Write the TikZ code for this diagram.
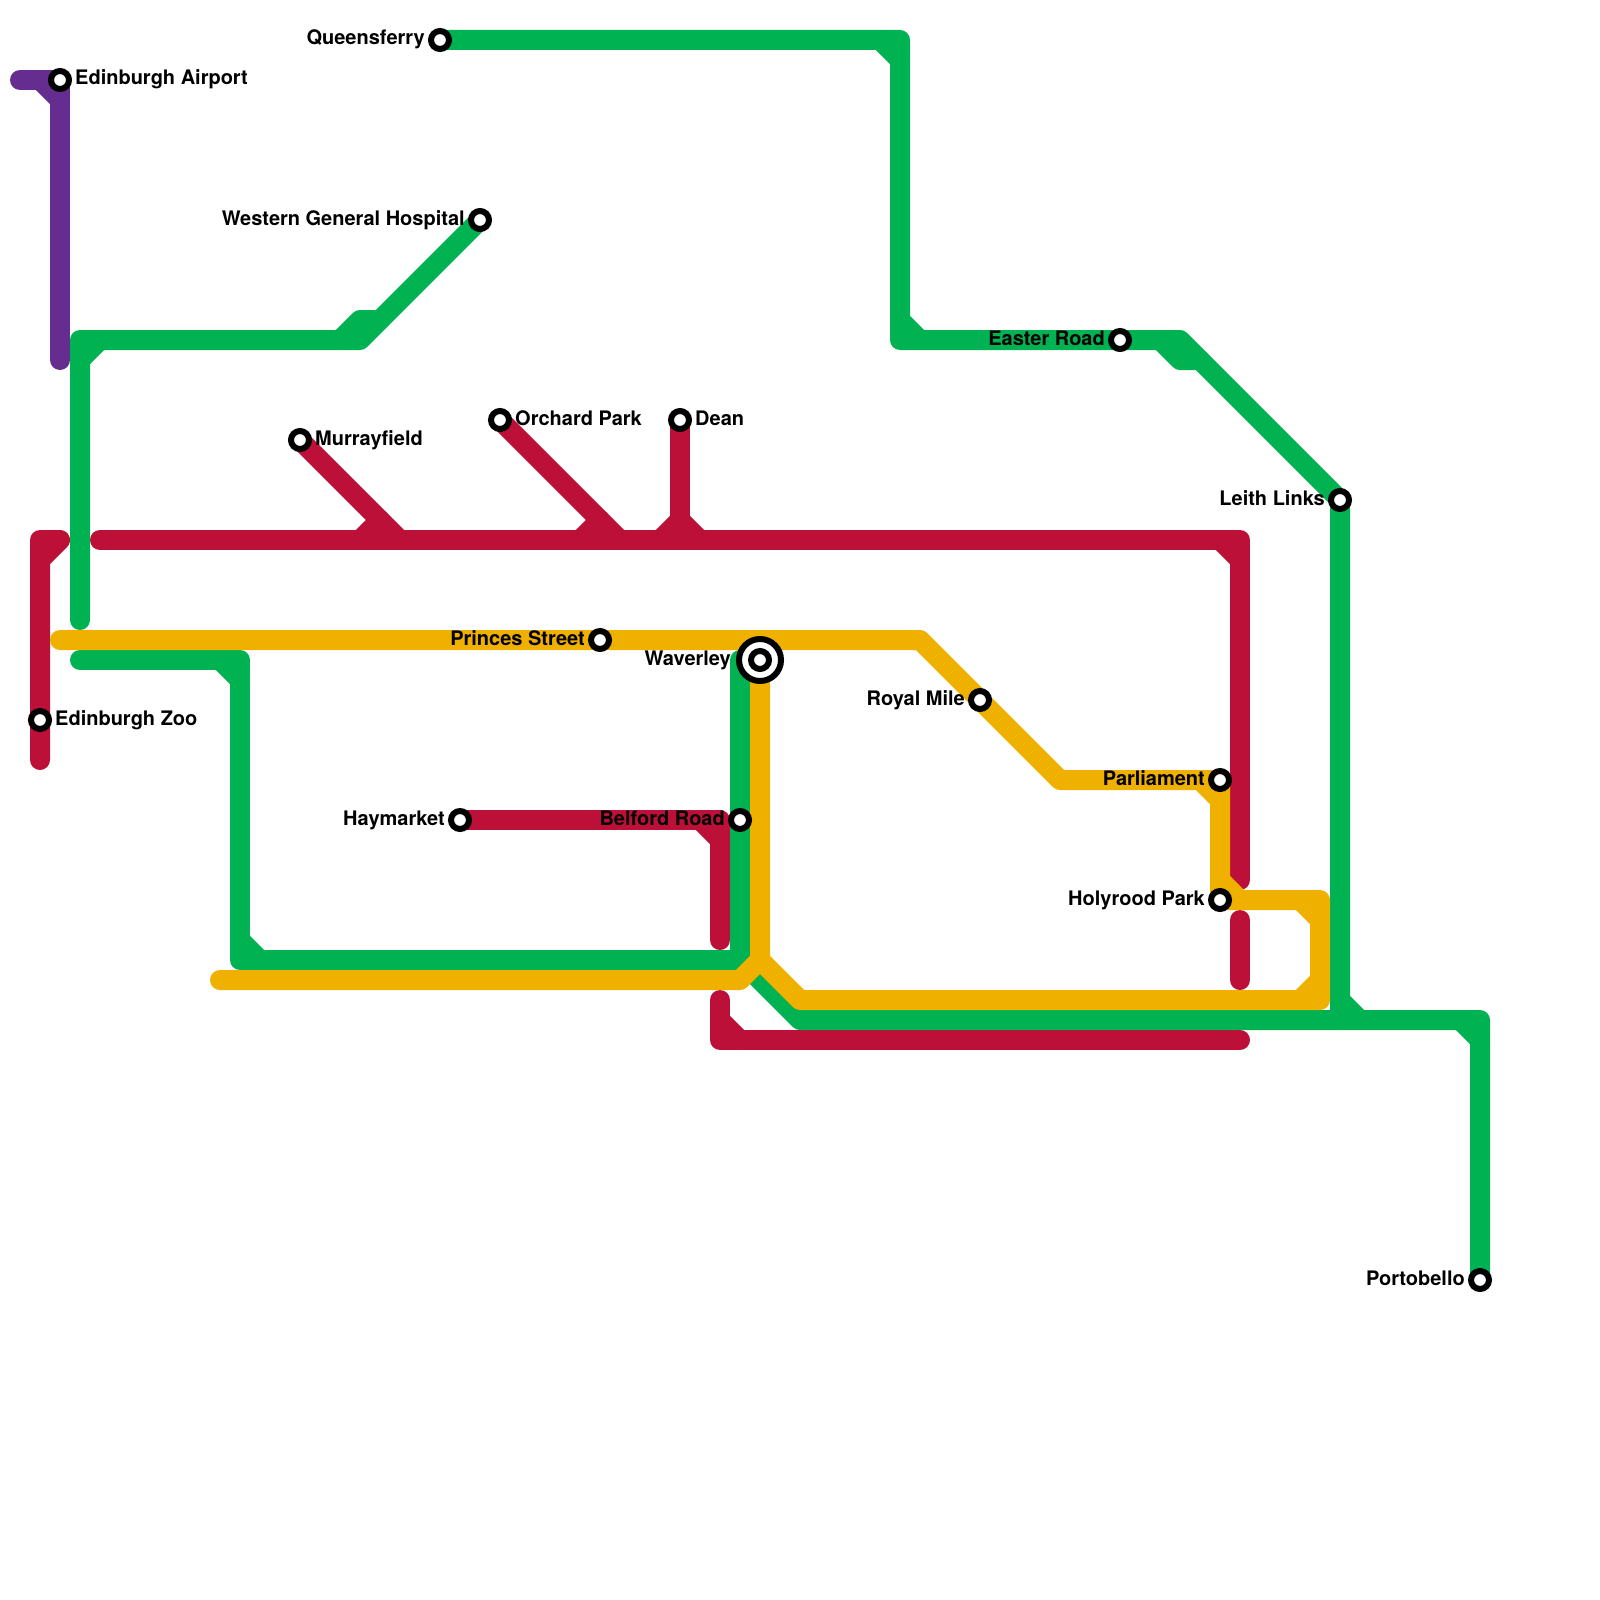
\documentclass[tikz,border=0pt]{standalone}
\usepackage{fontspec}
\setmainfont{TeX Gyre Heros}
\usetikzlibrary{backgrounds}
\definecolor{greenline}{HTML}{00B251}
\definecolor{redline}{HTML}{BD1038}
\definecolor{yellowline}{HTML}{F0B000}
\definecolor{purpleline}{HTML}{662D91}
\tikzset{
  route/.style={line width=20pt,line cap=round,line join=round,color=#1},
  stop/.style={circle,draw=black,fill=white,line width=6pt,minimum size=18pt,inner sep=0pt},
  hubring/.style={circle,draw=black,fill=white,line width=6pt,minimum size=42pt,inner sep=0pt},
  stopname/.style={font=\fontsize{20}{24}\selectfont\bfseries,inner sep=0pt,
    text height=15pt,text depth=5pt,label distance=3pt},
  every label/.style={stopname}
}
\begin{document}
\begin{tikzpicture}[x=20pt,y=-20pt,label distance=3pt]
  \useasboundingbox (0,0) rectangle (80,80);

  % stations, name on the right
  \foreach \n/\x/\y/\t in {
      airport/3/4/Edinburgh Airport,
      murrayfield/15/22/Murrayfield,
      orchard/25/21/Orchard Park,
      dean/34/21/Dean,
      zoo/2/36/Edinburgh Zoo}{
    \node[stop,label={right:\t}] (\n) at (\x,\y) {};
  }
  % stations, name on the left
  \foreach \n/\x/\y/\t in {
      queensferry/22/2/Queensferry,
      western/24/11/Western General Hospital,
      easter/56/17/Easter Road,
      leith/67/25/Leith Links,
      princes/30/32/Princes Street,
      royalmile/49/35/Royal Mile,
      parliament/61/39/Parliament,
      haymarket/23/41/Haymarket,
      belford/37/41/Belford Road,
      holyrood/61/45/Holyrood Park,
      portobello/74/64/Portobello}{
    \node[stop,label={left:\t}] (\n) at (\x,\y) {};
  }
  \node[hubring,label={[label distance=5pt]left:Waverley}] (waverleyring) at (38,33) {};
  \node[stop] (waverley) at (waverleyring.center) {};

  % free ends of the lines
  \coordinate (purplewest) at (1,4);
  \coordinate (purplesouth) at (3,18);
  \coordinate (greennorth) at (4,31);
  \coordinate (greenwest) at (4,33);
  \coordinate (greenhub) at (37,33);
  \coordinate (redwest) at (5,27);
  \coordinate (redzoo) at (2,38);
  \coordinate (redeast) at (62,44);
  \coordinate (redmidtop) at (62,46);
  \coordinate (redmidend) at (62,49);
  \coordinate (redlowstart) at (36,50);
  \coordinate (redlowend) at (62,52);
  \coordinate (redbelford) at (36,47);
  \coordinate (yellowwest) at (3,32);
  \coordinate (yellowlow) at (11,49);

  \begin{scope}[on background layer]
    % purple
    \draw[route=purpleline] (purplewest) -- (airport.center) -- (purplesouth);
    \draw[route=purpleline] (2,4) -- (3,5);

    % red
    \draw[route=redline] (redzoo) -- (zoo.center) -- (2,27) -- (3,27) -- (2,28);
    \draw[route=redline] (redwest) -- (62,27) -- (redeast);
    \draw[route=redline] (61,27) -- (62,28);
    \draw[route=redline] (murrayfield.center) -- (20,27);
    \draw[route=redline] (18,27) -- (19,26);
    \draw[route=redline] (orchard.center) -- (31,27);
    \draw[route=redline] (29,27) -- (30,26);
    \draw[route=redline] (dean.center) -- (34,26);
    \draw[route=redline] (33,27) -- (34,26) -- (35,27);
    \draw[route=redline] (haymarket.center) -- (36,41) -- (redbelford);
    \draw[route=redline] (35,41) -- (36,42);
    \draw[route=redline] (redmidtop) -- (redmidend);
    \draw[route=redline] (redlowstart) -- (36,52) -- (redlowend);
    \draw[route=redline] (36,51) -- (37,52);

    % green
    \draw[route=greenline] (queensferry.center) -- (45,2) -- (45,17) -- (easter.center)
      -- (59,17) -- (leith.center) -- (67,51) -- (74,51) -- (portobello.center);
    \draw[route=greenline] (44,2) -- (45,3);
    \draw[route=greenline] (45,16) -- (46,17);
    \draw[route=greenline] (58,17) -- (59,18) -- (60,18);
    \draw[route=greenline] (67,50) -- (68,51);
    \draw[route=greenline] (73,51) -- (74,52);
    \draw[route=greenline] (western.center) -- (18,17) -- (4,17) -- (greennorth);
    \draw[route=greenline] (4,18) -- (5,17);
    \draw[route=greenline] (17,17) -- (18,16) -- (19,16);
    \draw[route=greenline] (greenwest) -- (12,33) -- (12,48) -- (37,48) -- (greenhub);
    \draw[route=greenline] (11,33) -- (12,34);
    \draw[route=greenline] (12,47) -- (13,48);
    \draw[route=greenline] (37,48) -- (40,51) -- (67,51);

    % yellow
    \draw[route=yellowline] (yellowwest) -- (princes.center) -- (46,32) -- (royalmile.center)
      -- (53,39) -- (parliament.center) -- (holyrood.center) -- (66,45) -- (66,50)
      -- (40,50) -- (38,48) -- (waverleyring.center);
    \draw[route=yellowline] (yellowlow) -- (37,49) -- (38,48);
    \draw[route=yellowline] (60,39) -- (61,40);
    \draw[route=yellowline] (61,44) -- (62,45);
    \draw[route=yellowline] (65,45) -- (66,46);
    \draw[route=yellowline] (65,50) -- (66,49);
  \end{scope}
\end{tikzpicture}
\end{document}
